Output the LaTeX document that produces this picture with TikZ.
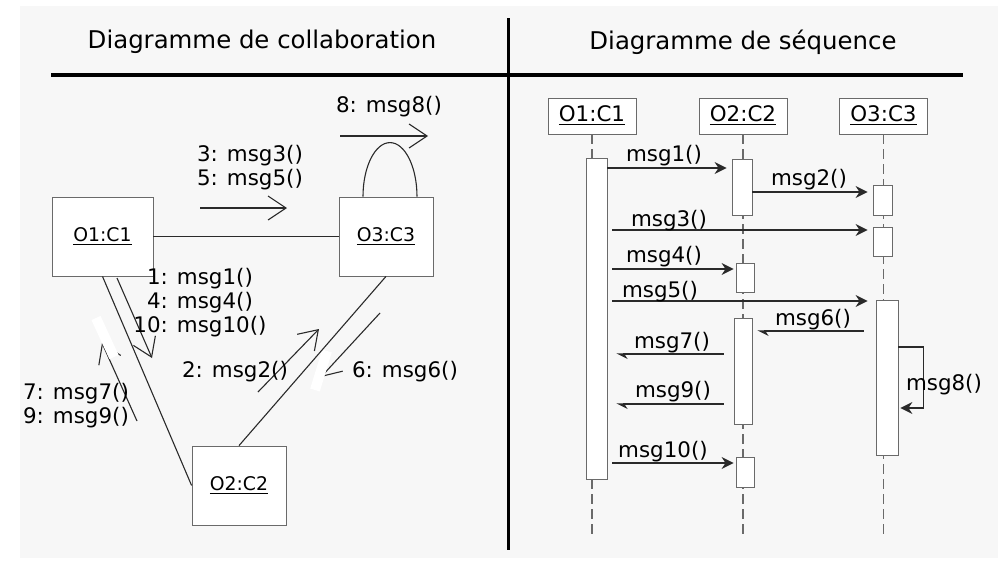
\documentclass[tikz,border=0pt]{standalone}
\usepackage{fontspec}
\setmainfont{DejaVu Sans}
\usetikzlibrary{arrows.meta}
\definecolor{fond}{HTML}{F7F7F7}
\definecolor{cadre}{HTML}{6A6A6A}
\definecolor{encre}{HTML}{2A2A2A}

\begin{document}
\begin{tikzpicture}[x=0.5pt,y=-0.5pt,
  titre/.style={inner sep=0pt,font=\fontsize{12.2}{14}\selectfont},
  lbl/.style={inner sep=0pt,align=center,font=\fontsize{10.7}{12}\selectfont},
  objet/.style={draw=cadre,fill=white,minimum width=47pt,minimum height=39.5pt,inner sep=0pt,font=\fontsize{9.4}{11}\selectfont},
  tete/.style={draw=cadre,fill=white,minimum width=44pt,minimum height=18pt,inner sep=0pt,font=\fontsize{10.7}{12}\selectfont},
  barre/.style={draw=cadre,fill=white,inner sep=0pt,minimum width=9.5pt},
  lien/.style={draw=encre,line width=0.55pt},
  envoi/.style={draw=encre,line width=0.55pt,-{Straight Barb[length=9pt,width=12pt]}},
  halo/.style={draw=white,line width=5pt},
  vie/.style={draw=cadre,line width=0.6pt,dash pattern=on 5pt off 2.5pt},
  sync/.style={draw=encre,line width=0.6pt,-{Stealth[length=6pt,width=6pt]}},
  async/.style={draw=encre,line width=0.6pt,-{Stealth[harpoon,length=5pt,width=5pt]}}
]
\useasboundingbox (0,0) rectangle (998,562);
\fill[fond] (20,6) rectangle (998,558);

\node[titre] (t1) at (262,42) {Diagramme de collaboration};
\node[titre] (t2) at (743,42) {Diagramme de séquence};
\draw[line width=2pt] (51,75) -- (963,75);
\draw[line width=1.5pt] (508,18) -- (508,550);

\coordinate (m35a) at (200,208);
\coordinate (m35b) at (287,208);
\coordinate (m8a) at (340,136);
\coordinate (m8b) at (428,136);
\coordinate (m1a) at (117,278);
\coordinate (m1b) at (152,358);
\coordinate (m79a) at (137,421);
\coordinate (m79b) at (102,343);
\coordinate (m2a) at (258,392);
\coordinate (m2b) at (319,329);
\coordinate (m6a) at (380,313);
\coordinate (m6b) at (321,377);

\draw[envoi] (m35a) -- (m35b);
\draw[envoi] (m8a) -- (m8b);
\draw[envoi] (m1a) -- (m1b);
\draw[envoi] (m79a) -- (m79b);
\draw[envoi] (m2a) -- (m2b);
\draw[envoi] (m6a) -- (m6b);
\draw[halo] (96,318) -- (114,357);
\draw[halo] (327,351) -- (315,390);

\node[objet,minimum width=50.5pt] (o1) at (102.5,236.5) {\underline{O1:C1}};
\node[objet] (o3) at (386,236.5) {\underline{O3:C3}};
\node[objet] (o2) at (239,485.5) {\underline{O2:C2}};
\draw[lien] (o1) -- (o3);
\draw[lien] (o1.south) -- (o2.west);
\draw[lien] (o3.south) -- (o2.north);
\draw[lien] ([xshift=-11.5pt]o3.north) arc[start angle=180,end angle=0,x radius=13.5pt,y radius=27pt];

\node[lbl] (n8) at (389,107) {8: msg8()};
\node[lbl] (n35) at (250,168) {3: msg3()\\5: msg5()};
\node[lbl] (n1) at (200,303) {1: msg1()\\4: msg4()\\10: msg10()};
\node[lbl] (n79) at (76,406) {7: msg7()\\9: msg9()};
\node[lbl] (n2) at (235,372) {2: msg2()};
\node[lbl] (n6) at (405,372) {6: msg6()};

\node[tete] (h1) at (592,116) {\underline{O1:C1}};
\node[tete] (h2) at (743,116) {\underline{O2:C2}};
\node[tete] (h3) at (883.5,116) {\underline{O3:C3}};
\draw[vie] (h1.south) -- (h1.south |- 0,538);
\draw[vie] (h2.south) -- (h2.south |- 0,538);
\draw[vie] (h3.south) -- (h3.south |- 0,538);

\node[barre,minimum width=10.5pt,minimum height=160.5pt] (a1) at (596.5,318.5) {};
\node[barre,minimum width=10pt,minimum height=28pt] (b1) at (742,187) {};
\node[barre,minimum width=9pt,minimum height=14.5pt] (b2) at (745,277.5) {};
\node[barre,minimum width=9pt,minimum height=53pt] (b3) at (743,371) {};
\node[barre,minimum width=9pt,minimum height=15pt] (b4) at (745,472) {};
\node[barre,minimum height=15pt] (c1) at (882.5,200) {};
\node[barre,minimum height=14.5pt] (c2) at (882.5,241.5) {};
\node[barre,minimum width=11pt,minimum height=77.5pt] (c3) at (887,377.5) {};

\draw[sync,shorten >=2.5pt] (a1.east |- 0,168) -- (b1.west |- 0,168);
\draw[sync,shorten >=2.5pt] (b1.east |- 0,192) -- (c1.west |- 0,192);
\draw[sync,shorten <=2.5pt,shorten >=2.5pt] (a1.east |- 0,230) -- (c2.west |- 0,230);
\draw[sync,shorten <=2.5pt,shorten >=1pt] (a1.east |- 0,269) -- (b2.west |- 0,269);
\draw[sync,shorten <=2.5pt,shorten >=4pt] (a1.east |- 0,301) -- (c3.west |- 0,301);
\draw[async,shorten <=6pt,shorten >=2.5pt] (c3.west |- 0,331) -- (b3.east |- 0,331);
\draw[async,shorten <=5pt,shorten >=4.5pt] (b3.west |- 0,354) -- (a1.east |- 0,354);
\draw[async,shorten <=5pt,shorten >=4.5pt] (b3.west |- 0,404) -- (a1.east |- 0,404);
\draw[sync,shorten >=1pt] (c3.east |- 0,347) -- ++(25,0) |- (c3.east |- 0,408);
\draw[sync,shorten <=2.5pt,shorten >=1pt] (a1.east |- 0,463) -- (b4.west |- 0,463);

\node[lbl] (s1) at (664,156) {msg1()};
\node[lbl] (s2) at (809,180) {msg2()};
\node[lbl] (s3) at (669,221) {msg3()};
\node[lbl] (s4) at (664,257) {msg4()};
\node[lbl] (s5) at (660,292) {msg5()};
\node[lbl] (s6) at (813,320) {msg6()};
\node[lbl] (s7) at (672,343) {msg7()};
\node[lbl] (s9) at (673,392) {msg9()};
\node[lbl] (s8) at (944,385) {msg8()};
\node[lbl] (s10) at (663,452) {msg10()};
\end{tikzpicture}
\end{document}
